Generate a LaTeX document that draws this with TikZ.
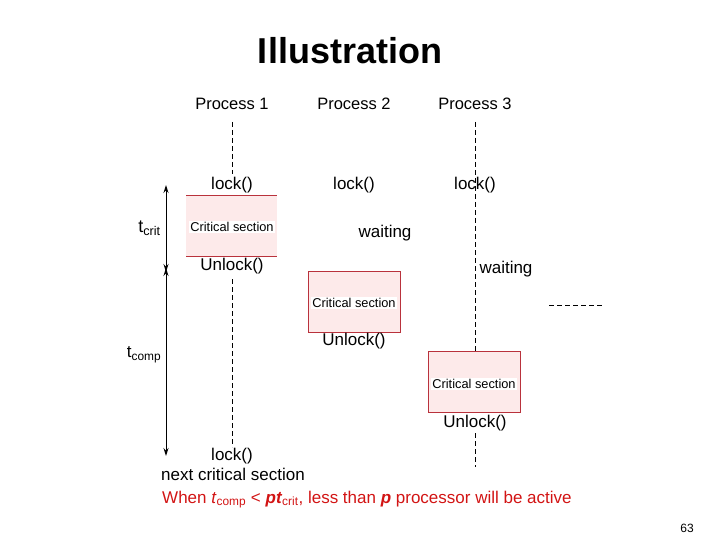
\documentclass[tikz,border=0pt]{standalone}
\usepackage{fontspec}
\setmainfont{Liberation Sans}
\usetikzlibrary{arrows.meta}
\definecolor{boxfill}{RGB}{253,234,234}
\definecolor{boxline}{RGB}{185,50,60}
\definecolor{redtext}{RGB}{210,20,20}
\begin{document}
\begin{tikzpicture}[x=1pt,y=-1pt,
  lbl/.style={font=\fontsize{17}{19}\selectfont, inner sep=0pt},
  proc/.style={font=\fontsize{16.5}{18}\selectfont, inner sep=0pt},
  crit/.style={font=\fontsize{12.8}{14}\selectfont, fill=white, inner sep=1pt},
  csbox/.style={draw=boxline, fill=boxfill, line width=0.8pt, minimum width=92pt, minimum height=61pt, inner sep=0pt},
  life/.style={dashed, dash pattern=on 5pt off 3pt, line width=0.7pt},
  tarrow/.style={-{Stealth[length=8pt,width=5pt]}, line width=0.9pt}]
\useasboundingbox (0,0) rectangle (720,540);
% title
\node[font=\bfseries\fontsize{36}{40}\selectfont, inner sep=0pt] (title) at (350,51) {Illustration};
% process headers
\node[proc] (p1) at (232,103.5) {Process 1};
\node[proc] (p2) at (354,103.5) {Process 2};
\node[proc] (p3) at (475,103.5) {Process 3};
% Process 1
\coordinate (p1top) at (232,122);
\coordinate (p1a) at (232,174);
\node[lbl] (lock1) at (232,185) {lock()};
\fill[boxfill] (186,195) rectangle (277,256);
\draw[boxline, line width=0.8pt] (186,195) -- (277,195);
\draw[boxline, line width=0.8pt] (186,256) -- (277,256);
\node[crit] (cs1) at (232,227) {Critical section};
\node[lbl] (unlock1) at (232,266.5) {Unlock()};
\coordinate (p1b) at (232,279);
\coordinate (p1c) at (232,447);
\draw[life] (p1top) -- (p1a);
\draw[life] (p1b) -- (p1c);
\node[lbl] (lock1b) at (232,456.5) {lock()};
\node[lbl] (next) at (233,474) {next critical section};
% Process 2
\node[lbl] (lock2) at (354,185.5) {lock()};
\node[lbl] (wait2) at (385,233.5) {waiting};
\node[csbox] (box2) at (354,301.5) {};
\node[crit] (cs2) at (354,303) {Critical section};
\node[lbl] (unlock2) at (354,341.5) {Unlock()};
% Process 3
\coordinate (p3top) at (475,122);
\coordinate (p3a) at (475,352);
\node[lbl] (lock3) at (475,185.5) {lock()};
\node[lbl] (wait3) at (506,269.5) {waiting};
\draw[life] (p3top) -- (p3a);
\node[csbox] (box3) at (474,382) {};
\node[crit] (cs3) at (474,384) {Critical section};
\node[lbl] (unlock3) at (475,423.5) {Unlock()};
\coordinate (p3b) at (475,433);
\coordinate (p3c) at (475,467);
\draw[life] (p3b) -- (p3c);
% continuation
\coordinate (d1) at (549,305);
\coordinate (d2) at (602,305);
\draw[dashed, dash pattern=on 5pt off 3pt, line width=0.8pt] (d1) -- (d2);
% time arrows
\coordinate (a1) at (166,185);
\coordinate (a2) at (166,272);
\coordinate (a3) at (166,268);
\coordinate (a4) at (166,456);
\draw[tarrow, {Stealth[length=8pt,width=5pt]}-] (a1) -- (166,228);
\draw[tarrow] (166,228) -- (a2);
\draw[tarrow, {Stealth[length=8pt,width=5pt]}-] (a3) -- (166,330);
\draw[tarrow] (166,330) -- (a4);
\node[font=\fontsize{18}{20}\selectfont, inner sep=0pt] (tcrit) at (149.5,228.5) {t\textsubscript{crit}};
\node[font=\fontsize{17}{19}\selectfont, inner sep=0pt] (tcomp) at (144,354.5) {t\textsubscript{comp}};
% note
\node[font=\fontsize{17}{19}\selectfont, text=redtext, inner sep=0pt, anchor=west] (note) at (162,499.5)
  {When \textit{t}\textsubscript{comp} < \textbf{\textit{pt}}\textsubscript{crit}, less than \textbf{\textit{p}} processor will be active};
\node[font=\fontsize{12}{14}\selectfont, inner sep=0pt] (page) at (687,528) {63};
\end{tikzpicture}
\end{document}
